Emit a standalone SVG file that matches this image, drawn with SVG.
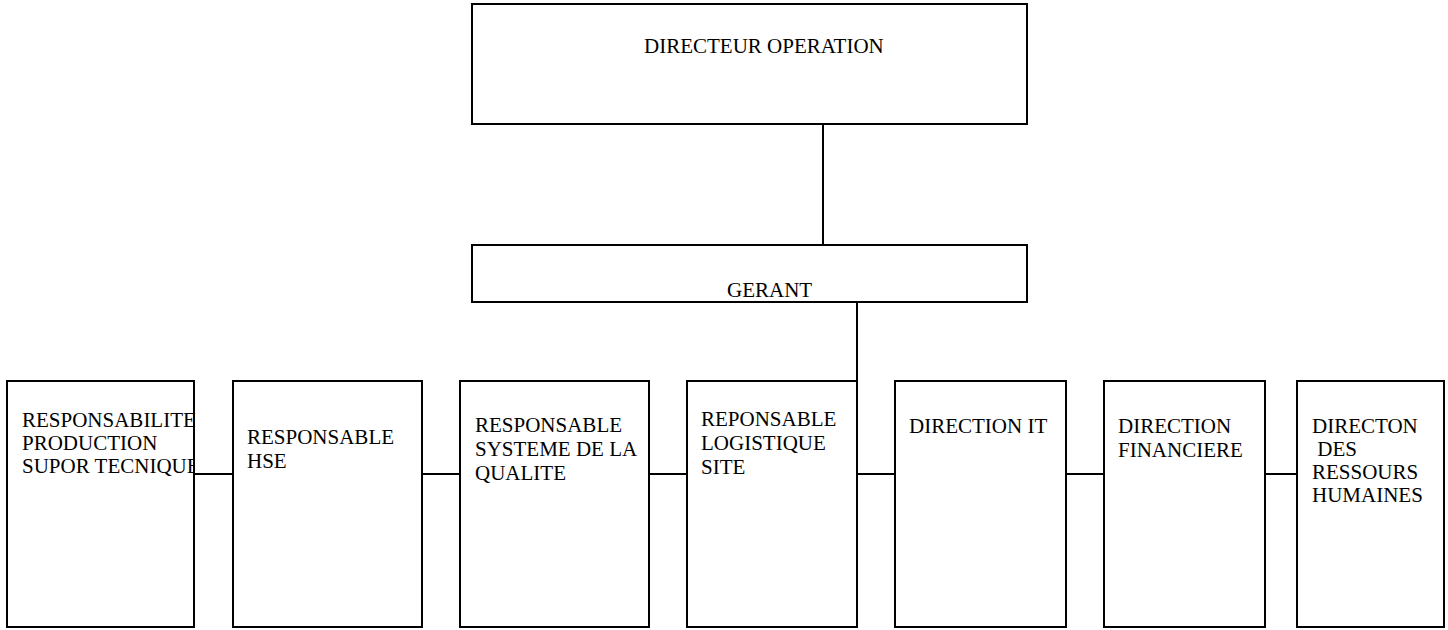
<svg xmlns="http://www.w3.org/2000/svg" width="1448" height="630" viewBox="0 0 1448 630">
<style>
.box{fill:#fff;stroke:#000;stroke-width:2}
.con{stroke:#000;stroke-width:2;fill:none}
text{font-family:"Liberation Serif","Times New Roman",serif;font-size:21px;fill:#000}
</style>
<defs>
<clipPath id="clip1"><rect x="7" y="381" width="187" height="246"/></clipPath>
</defs>
<rect width="1448" height="630" fill="#fff"/>
<g id="connectors">
<line class="con" x1="823" y1="124" x2="823" y2="245"/>
<line class="con" x1="857" y1="302" x2="857" y2="381"/>
<line class="con" x1="195" y1="474" x2="233" y2="474"/>
<line class="con" x1="422" y1="474" x2="460" y2="474"/>
<line class="con" x1="649" y1="474" x2="687" y2="474"/>
<line class="con" x1="857" y1="474" x2="895" y2="474"/>
<line class="con" x1="1066" y1="474" x2="1104" y2="474"/>
<line class="con" x1="1265" y1="474" x2="1297" y2="474"/>
</g>
<g id="directeur">
<rect class="box" x="472" y="4" width="555" height="120"/>
<text x="644" y="53">DIRECTEUR OPERATION</text>
</g>
<g id="gerant">
<rect class="box" x="472" y="245" width="555" height="57"/>
<text x="727" y="297">GERANT</text>
</g>
<g id="prod">
<rect class="box" x="7" y="381" width="187" height="246"/>
<g clip-path="url(#clip1)">
<text x="22" y="427">RESPONSABILITE</text>
<text x="22" y="450">PRODUCTION</text>
<text x="22" y="473">SUPOR TECNIQUE</text>
</g>
</g>
<g id="hse">
<rect class="box" x="233" y="381" width="189" height="246"/>
<text x="247" y="444">RESPONSABLE</text>
<text x="247" y="468">HSE</text>
</g>
<g id="qualite">
<rect class="box" x="460" y="381" width="189" height="246"/>
<text x="475" y="432">RESPONSABLE</text>
<text x="475" y="456">SYSTEME DE LA</text>
<text x="475" y="480">QUALITE</text>
</g>
<g id="logistique">
<rect class="box" x="687" y="381" width="170" height="246"/>
<text x="701" y="426">REPONSABLE</text>
<text x="701" y="450">LOGISTIQUE</text>
<text x="701" y="474">SITE</text>
</g>
<g id="it">
<rect class="box" x="895" y="381" width="171" height="246"/>
<text x="909" y="433">DIRECTION IT</text>
</g>
<g id="finance">
<rect class="box" x="1104" y="381" width="161" height="246"/>
<text x="1118" y="433">DIRECTION</text>
<text x="1118" y="457">FINANCIERE</text>
</g>
<g id="rh">
<rect class="box" x="1297" y="381" width="147" height="246"/>
<text x="1312" y="433">DIRECTON</text>
<text x="1312" y="456" xml:space="preserve"> DES</text>
<text x="1312" y="479">RESSOURS</text>
<text x="1312" y="502">HUMAINES</text>
</g>
</svg>
